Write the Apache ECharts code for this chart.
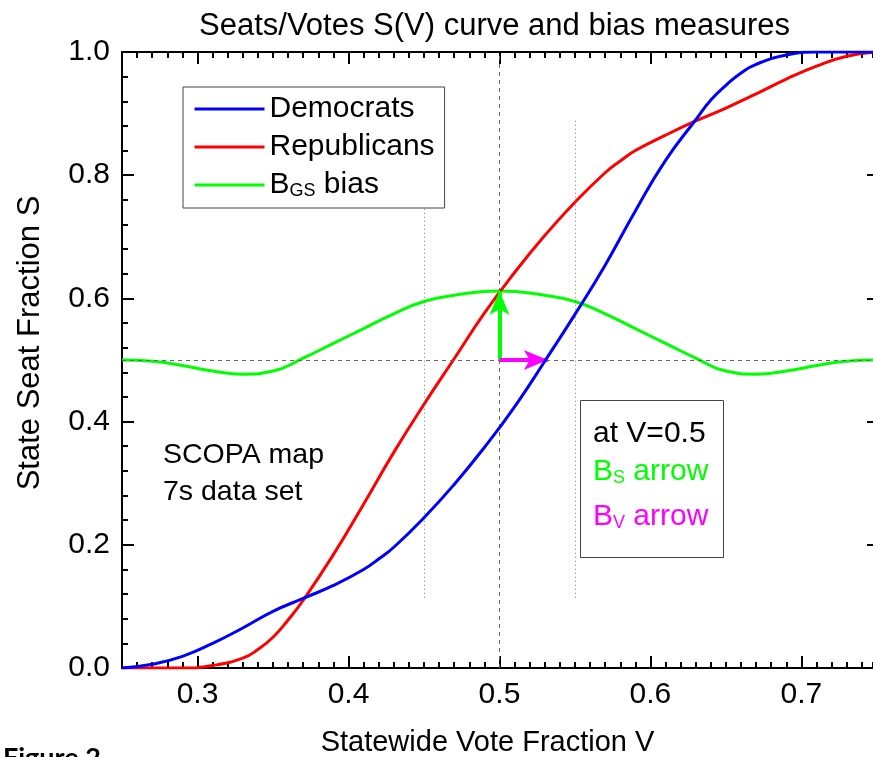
<!DOCTYPE html>
<html>
<head>
<meta charset="utf-8">
<script src="https://cdn.jsdelivr.net/npm/echarts@6/dist/echarts.min.js"></script>
<style>
  html, body { margin: 0; padding: 0; background: #fff; }
  #chart { width: 873px; height: 757px; }
</style>
</head>
<body>
<div id="chart"></div>
<script>
// values
const vDem = [0.25, 0.27, 0.29, 0.31, 0.33, 0.35, 0.37, 0.39, 0.41, 0.42, 0.43, 0.45, 0.47, 0.49,
  0.51, 0.53, 0.55, 0.57, 0.59, 0.61, 0.63, 0.64, 0.65, 0.66, 0.67, 0.69, 0.71, 0.73, 0.75];
const sDem = [0.0, 0.006, 0.019, 0.040, 0.065, 0.092, 0.113, 0.134, 0.160, 0.177, 0.196, 0.244, 0.298, 0.358,
  0.424, 0.498, 0.574, 0.654, 0.742, 0.824, 0.890, 0.922, 0.946, 0.966, 0.980, 0.995, 1.0, 1.0, 1.0];

const vRep = [0.25, 0.27, 0.29, 0.31, 0.33, 0.34, 0.35, 0.36, 0.37, 0.39, 0.41, 0.43, 0.45, 0.47, 0.49,
  0.51, 0.53, 0.55, 0.57, 0.58, 0.59, 0.61, 0.63, 0.65, 0.67, 0.69, 0.71, 0.73, 0.75];
const sRep = [0.0, 0.0, 0.0, 0.004, 0.016, 0.030, 0.050, 0.078, 0.110, 0.184, 0.266, 0.350, 0.428, 0.502, 0.576,
  0.642, 0.702, 0.756, 0.804, 0.823, 0.840, 0.865, 0.888, 0.909, 0.932, 0.956, 0.977, 0.993, 1.0];

const vBias = [0.25, 0.27, 0.29, 0.31, 0.33, 0.35, 0.37, 0.39, 0.41, 0.43, 0.45, 0.47, 0.50,
  0.53, 0.55, 0.57, 0.59, 0.61, 0.63, 0.65, 0.67, 0.69, 0.71, 0.73, 0.75];
const sBias = [0.500, 0.498, 0.491, 0.482, 0.477, 0.482, 0.503, 0.527, 0.551, 0.575, 0.595, 0.605, 0.612,
  0.605, 0.595, 0.575, 0.551, 0.527, 0.503, 0.482, 0.477, 0.482, 0.491, 0.498, 0.500];

const xTicks = [0.3, 0.4, 0.5, 0.6, 0.7];
const bsArrow = [[0.5, 0.5], [0.5, 0.612]];
const bvArrow = [[0.5, 0.5], [0.532, 0.5]];
const dotted45 = [[0.45, 0.114], [0.45, 0.747]];
const dotted55 = [[0.55, 0.114], [0.55, 0.893]];

// the plotted range runs to 0.75, but the figure is cut just before that edge
const xMin = 0.25;
const xMax = 0.7474;

const font = "'Liberation Sans', Arial, sans-serif";
const zip = (xs, ys) => xs.map((x, i) => [x, ys[i]]);

const chart = echarts.init(document.getElementById("chart"));

const xBase = {
  type: "value", min: xMin, max: xMax, gridIndex: 0,
  splitLine: { show: false },
};

const option = {
  animation: false,
  backgroundColor: "#fff",
  textStyle: { fontFamily: font },
  title: {
    text: "Seats/Votes S(V) curve and bias measures",
    left: 194, top: 6,
    textStyle: { fontFamily: font, fontSize: 31, fontWeight: "normal", color: "#000" },
  },
  grid: { left: 122, top: 52, right: 0, height: 616, outerBoundsMode: "none" },
  legend: {
    left: 183, top: 87, orient: "vertical",
    data: ["Democrats", "Republicans", "BGS bias"],
    backgroundColor: "#fff",
    borderColor: "#444", borderWidth: 1,
    padding: [7, 10, 8, 10],
    itemGap: 8, itemWidth: 70, itemHeight: 14,
    itemStyle: { opacity: 0 },
    lineStyle: { width: 3 },
    textStyle: {
      fontFamily: font, fontSize: 30, color: "#000",
      rich: {
        n: { fontFamily: font, fontSize: 30, color: "#000" },
        s: { fontFamily: font, fontSize: 18, color: "#000", verticalAlign: "bottom", padding: [12, 0, 0, 0] },
      },
    },
    formatter: (name) => name === "BGS bias" ? "{n|B}{s|GS}{n| bias}" : name,
  },
  xAxis: [
    Object.assign({}, xBase, {
      position: "bottom",
      name: "Statewide Vote Fraction V",
      nameLocation: "middle", nameGap: 60,
      nameTextStyle: { fontFamily: font, fontSize: 29, color: "#000", padding: [0, 20, 0, 0] },
      axisLine: { show: true, lineStyle: { color: "#000", width: 2 } },
      axisTick: { show: true, inside: true, length: 12, customValues: xTicks, lineStyle: { color: "#000", width: 2 } },
      axisLabel: { customValues: xTicks, fontFamily: font, fontSize: 30, color: "#000", margin: 12 },
    }),
    Object.assign({}, xBase, {
      position: "bottom", interval: 0.01,
      axisLine: { show: false },
      axisTick: { show: true, inside: true, length: 6, lineStyle: { color: "#000", width: 2 } },
      axisLabel: { show: false },
    }),
    Object.assign({}, xBase, {
      position: "top",
      axisLine: { show: true, lineStyle: { color: "#000", width: 2 } },
      axisTick: { show: true, inside: true, length: 12, customValues: xTicks, lineStyle: { color: "#000", width: 2 } },
      axisLabel: { show: false },
    }),
    Object.assign({}, xBase, {
      position: "top", interval: 0.01,
      axisLine: { show: false },
      axisTick: { show: true, inside: true, length: 6, lineStyle: { color: "#000", width: 2 } },
      axisLabel: { show: false },
    }),
  ],
  yAxis: [
    {
      type: "value", min: 0, max: 1, interval: 0.2, position: "left",
      name: "State Seat Fraction S",
      nameLocation: "middle", nameGap: 76,
      nameTextStyle: { fontFamily: font, fontSize: 31, color: "#000", padding: [0, 0, 0, 34] },
      splitLine: { show: false },
      axisLine: { show: true, lineStyle: { color: "#000", width: 2 } },
      axisTick: { show: true, inside: true, length: 12, lineStyle: { color: "#000", width: 2 } },
      minorTick: { show: true, splitNumber: 5, length: 6, lineStyle: { color: "#000", width: 2 } },
      axisLabel: { fontFamily: font, fontSize: 30, color: "#000", margin: 12, formatter: (v) => v.toFixed(1) },
    },
    {
      type: "value", min: 0, max: 1, interval: 0.2, position: "right",
      splitLine: { show: false },
      axisLine: { show: false },
      axisTick: { show: true, inside: true, length: 6, lineStyle: { color: "#000", width: 2 } },
      minorTick: { show: false },
      axisLabel: { show: false },
    },
  ],
  series: [
    {
      name: "guides", type: "line", data: [], silent: true, z: 1,
      markLine: {
        silent: true, symbol: "none", label: { show: false },
        lineStyle: { color: "#666", width: 1, type: [4, 4] },
        data: [{ yAxis: 0.5 }, { xAxis: 0.5 }],
      },
    },
    {
      name: "dots", type: "line", data: [], silent: true, z: 1,
      markLine: {
        silent: true, symbol: "none", label: { show: false },
        lineStyle: { color: "#777", width: 1, type: [1, 3] },
        data: [
          [{ coord: dotted45[0] }, { coord: dotted45[1] }],
          [{ coord: dotted55[0] }, { coord: dotted55[1] }],
        ],
      },
    },
    {
      name: "BGS bias", type: "line", data: zip(vBias, sBias), smooth: 0.5,
      showSymbol: false, symbol: "none", color: "#00ff00",
      lineStyle: { color: "#00ff00", width: 3 }, z: 3,
    },
    {
      name: "Republicans", type: "line", data: zip(vRep, sRep), smooth: 0.5,
      showSymbol: false, symbol: "none", color: "#ff0000",
      lineStyle: { color: "#ff0000", width: 3 }, z: 4,
    },
    {
      name: "Democrats", type: "line", data: zip(vDem, sDem), smooth: 0.5,
      showSymbol: false, symbol: "none", color: "#0000ff",
      lineStyle: { color: "#0000ff", width: 3 }, z: 5,
    },
    {
      name: "bs", type: "line", data: [], silent: true, z: 6,
      markLine: {
        silent: true, symbol: ["none", "arrow"], symbolSize: [15, 24], label: { show: false },
        lineStyle: { color: "#00ff00", width: 4, type: "solid" },
        itemStyle: { color: "#00ff00" },
        data: [[{ coord: bsArrow[0] }, { coord: bsArrow[1] }]],
      },
    },
    {
      name: "bv", type: "line", data: [], silent: true, z: 6,
      markLine: {
        silent: true, symbol: ["none", "arrow"], symbolSize: [15, 24], label: { show: false },
        lineStyle: { color: "#ff00ff", width: 4, type: "solid" },
        itemStyle: { color: "#ff00ff" },
        data: [[{ coord: bvArrow[0] }, { coord: bvArrow[1] }]],
      },
    },
  ],
  graphic: [
    {
      type: "text", left: 163, top: 437, z: 10,
      style: { text: "SCOPA map\n7s data set", font: "28.5px " + font, fill: "#000", lineHeight: 37 },
    },
    {
      type: "rect", left: 580, top: 400, z: 10,
      shape: { width: 143, height: 157 },
      style: { fill: "#fff", stroke: "#444", lineWidth: 1 },
    },
    {
      type: "text", left: 593, top: 419, z: 11,
      style: { text: "at V=0.5", font: "30px " + font, fill: "#000" },
    },
    {
      type: "text", left: 593, top: 457, z: 11,
      style: {
        text: "{b|B}{s|S}{b| arrow}",
        rich: {
          b: { fontFamily: font, fontSize: 30, fill: "#00ff00" },
          s: { fontFamily: font, fontSize: 18, fill: "#00ff00", verticalAlign: "bottom", padding: [12, 0, 0, 0] },
        },
      },
    },
    {
      type: "text", left: 593, top: 502, z: 11,
      style: {
        text: "{b|B}{s|V}{b| arrow}",
        rich: {
          b: { fontFamily: font, fontSize: 30, fill: "#ff00ff" },
          s: { fontFamily: font, fontSize: 18, fill: "#ff00ff", verticalAlign: "bottom", padding: [12, 0, 0, 0] },
        },
      },
    },
    {
      type: "text", left: 3, top: 745, z: 10,
      style: { text: "Figure 2", font: "bold 27px Lato, 'Open Sans', sans-serif", fill: "#000" },
    },
  ],
};

chart.setOption(option);
</script>
</body>
</html>
